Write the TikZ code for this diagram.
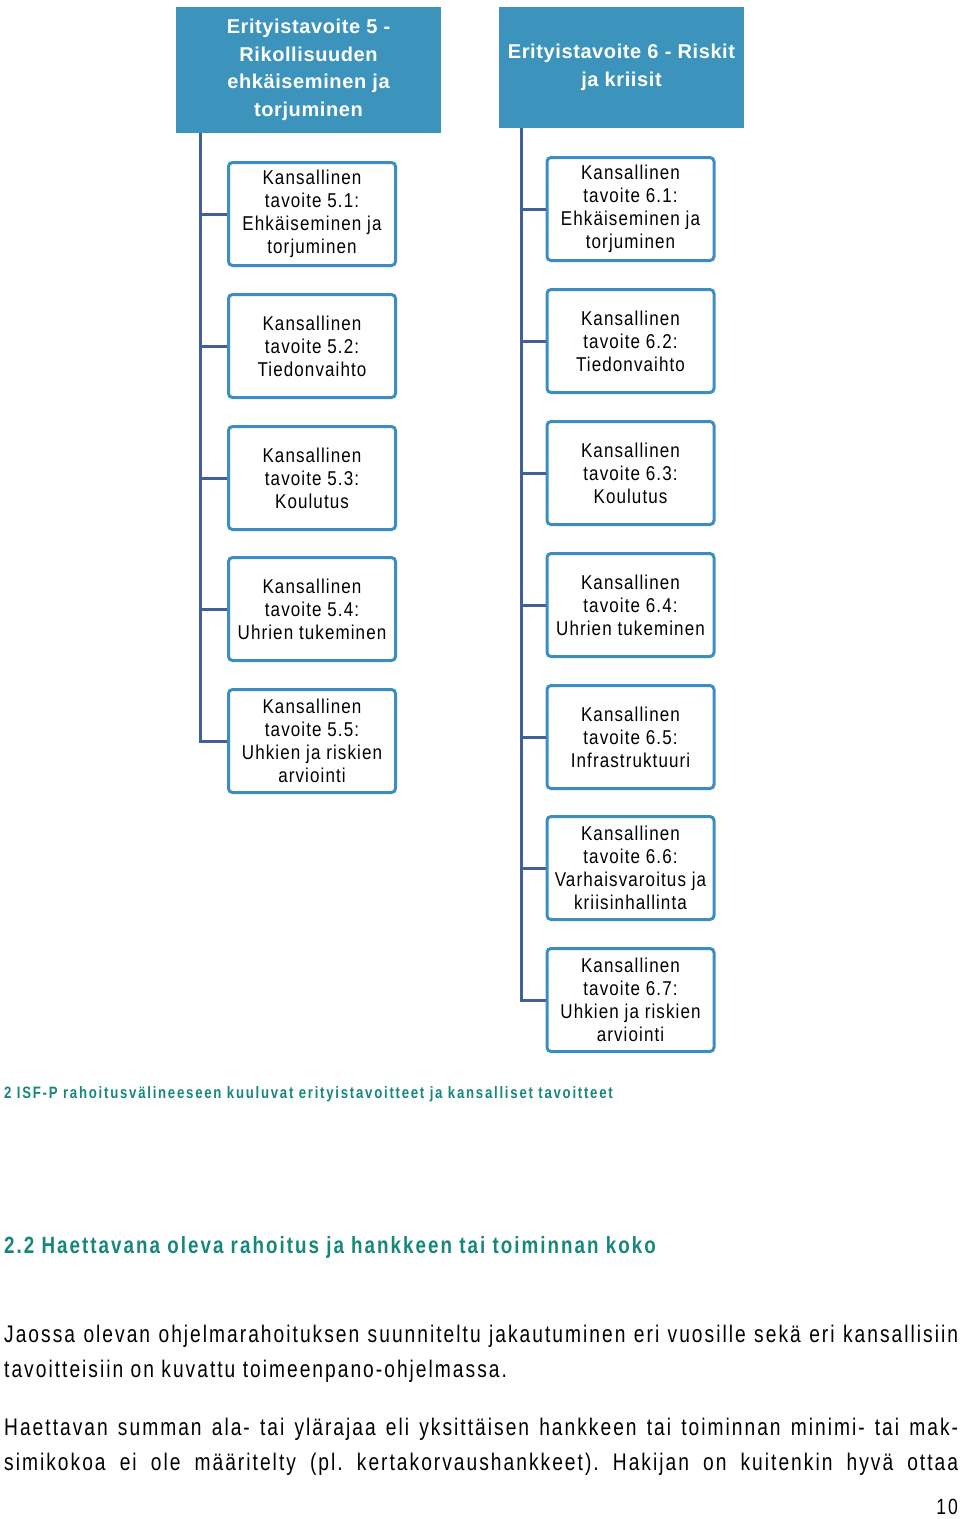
\documentclass[tikz,border=0pt]{standalone}
\usepackage{fontspec}
\setmainfont{Liberation Sans}
\newfontfamily\bodyfont[FakeStretch=0.8,LetterSpace=8.4]{Liberation Sans}
\newfontfamily\captfont[FakeStretch=0.8,LetterSpace=10.6]{Liberation Sans}
\newfontfamily\secfont[FakeStretch=0.8,LetterSpace=8.6]{Liberation Sans}
\newfontfamily\headfont[LetterSpace=3]{Liberation Sans}
\newfontfamily\kidfont[FakeStretch=0.85,LetterSpace=5.5]{Liberation Sans}
\definecolor{headblue}{HTML}{3C94BD}
\definecolor{kidblue}{HTML}{3C8DC0}
\definecolor{linkblue}{HTML}{40609A}
\definecolor{tealtext}{HTML}{16877A}
\frenchspacing
\begin{document}
\begin{tikzpicture}[x=1pt,y=-1pt,
  headbox/.style={fill=headblue, text=white, inner sep=0pt, align=center,
    font=\headfont\bfseries\fontsize{20}{27.5}\selectfont},
  kidbox/.style={draw=kidblue, line width=3pt, rounded corners=4pt, fill=white,
    minimum width=167pt, minimum height=103pt, inner sep=0pt, align=center,
    font=\kidfont\fontsize{20}{23}\selectfont},
  link/.style={draw=linkblue, line width=3pt},
  capt/.style={anchor=west, inner sep=0pt, text=tealtext},
  bodytext/.style={anchor=north west, inner sep=0pt, text width=954pt, align=justify,
    font=\bodyfont\fontsize{24}{35}\selectfont}
]
\path[use as bounding box] (0,0) rectangle (960,1519);

% headers
\node[headbox, minimum width=265pt, minimum height=126pt] (h5) at (308.5,70)
  {Erityistavoite 5 -\\Rikollisuuden\\ehkäiseminen ja\\torjuminen};
\node[headbox, minimum width=245pt, minimum height=121pt] (h6) at (621.5,67.5)
  {Erityistavoite 6 - Riskit\\ja kriisit};

% left column
\node[kidbox] (k51) at (312,214) {Kansallinen\\tavoite 5.1:\\Ehkäiseminen ja\\torjuminen};
\node[kidbox] (k52) at (312,346) {Kansallinen\\tavoite 5.2:\\Tiedonvaihto};
\node[kidbox] (k53) at (312,478) {Kansallinen\\tavoite 5.3:\\Koulutus};
\node[kidbox] (k54) at (312,609) {Kansallinen\\tavoite 5.4:\\Uhrien tukeminen};
\node[kidbox] (k55) at (312,741) {Kansallinen\\tavoite 5.5:\\Uhkien ja riskien\\arviointi};

% right column
\node[kidbox] (k61) at (630.5,209) {Kansallinen\\tavoite 6.1:\\Ehkäiseminen ja\\torjuminen};
\node[kidbox] (k62) at (630.5,341) {Kansallinen\\tavoite 6.2:\\Tiedonvaihto};
\node[kidbox] (k63) at (630.5,473) {Kansallinen\\tavoite 6.3:\\Koulutus};
\node[kidbox] (k64) at (630.5,605) {Kansallinen\\tavoite 6.4:\\Uhrien tukeminen};
\node[kidbox] (k65) at (630.5,737) {Kansallinen\\tavoite 6.5:\\Infrastruktuuri};
\node[kidbox] (k66) at (630.5,868) {Kansallinen\\tavoite 6.6:\\Varhaisvaroitus ja\\kriisinhallinta};
\node[kidbox] (k67) at (630.5,1000) {Kansallinen\\tavoite 6.7:\\Uhkien ja riskien\\arviointi};

% connectors
\coordinate (t5) at (200,133);
\coordinate (t6) at (521,128);
\draw[link] (t5) |- (k55.west);
\foreach \k in {k51,k52,k53,k54} \draw[link] (t5 |- \k.west) -- (\k.west);
\draw[link] (t6) |- (k67.west);
\foreach \k in {k61,k62,k63,k64,k65,k66} \draw[link] (t6 |- \k.west) -- (\k.west);

% captions and text
\node[capt, font=\captfont\bfseries\fontsize{16.5}{18}\selectfont] (cap) at (4,1094)
  {2 ISF-P rahoitusvälineeseen kuuluvat erityistavoitteet ja kansalliset tavoitteet};
\node[capt, font=\secfont\bfseries\fontsize{23.5}{26}\selectfont] (sec) at (4,1247)
  {2.2 Haettavana oleva rahoitus ja hankkeen tai toiminnan koko};
\node[bodytext] (p1) at (4,1325)
  {Jaossa olevan ohjelmarahoituksen suunniteltu jakautuminen eri vuosille sekä eri kansallisiin\linebreak
   tavoitteisiin on kuvattu toimeenpano-ohjelmassa.};
\node[bodytext] (p2) at (4,1418)
  {\parfillskip=0pt Haettavan summan ala- tai ylärajaa eli yksittäisen hankkeen tai toiminnan minimi- tai mak-\linebreak
   simikokoa ei ole määritelty (pl. kertakorvaushankkeet). Hakijan on kuitenkin hyvä ottaa\par};
\node[anchor=east, inner sep=0pt, font=\bodyfont\fontsize{22}{22}\selectfont] (pg) at (958,1507) {10};
\end{tikzpicture}
\end{document}
